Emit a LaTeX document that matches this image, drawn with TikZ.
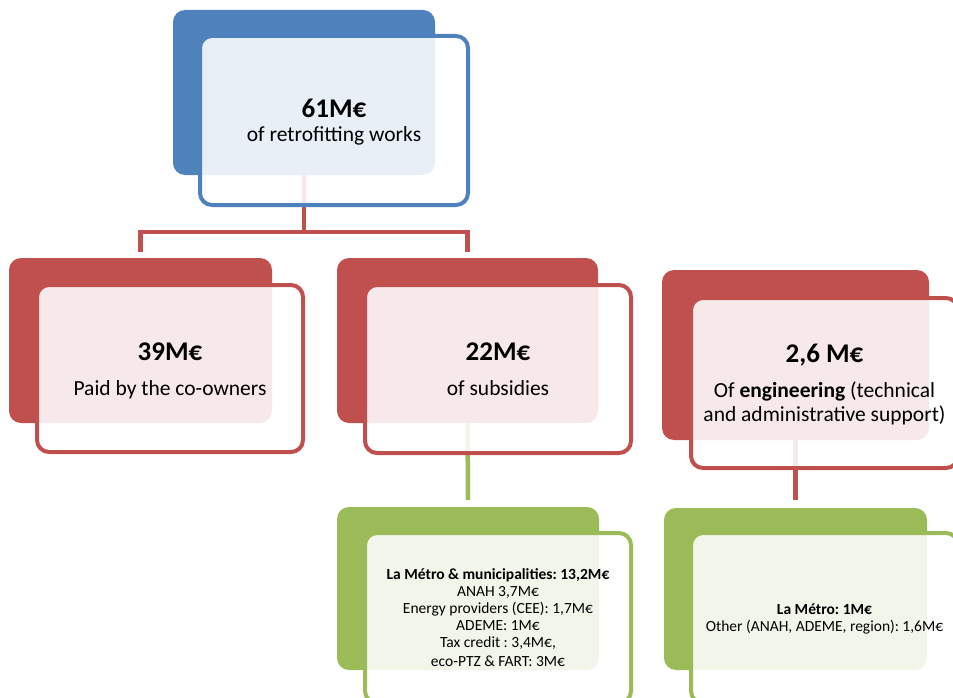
\documentclass[tikz,border=0pt]{standalone}
\usepackage{fontspec}
\setmainfont{Carlito}
\usetikzlibrary{calc}
\frenchspacing
\definecolor{cblue}{HTML}{4F81BD}
\definecolor{cred}{HTML}{C0504D}
\definecolor{cgreen}{HTML}{9BBB59}
\begin{document}
\begin{tikzpicture}[x=1pt,y=-1pt,
  back/.style={rectangle, rounded corners=12pt, anchor=north west, inner sep=0pt, outer sep=0pt, draw=none, fill=#1},
  front/.style={rectangle, rounded corners=12pt, anchor=north west, inner sep=0pt, outer sep=0pt, draw=#1, line width=4pt, fill=white, fill opacity=0.88, draw opacity=1},
  conn/.style={draw=#1, line width=4.5pt},
  big/.style={font=\fontsize{27}{30}\selectfont\bfseries, anchor=base, inner sep=0pt},
  body/.style={font=\fontsize{21.5}{23}\selectfont, anchor=base, inner sep=0pt},
  small/.style={font=\fontsize{15.5}{17}\selectfont, align=center, inner sep=0pt}]
\useasboundingbox (0,0) rectangle (953,698);
\clip (0,0) rectangle (953,698);
% back boxes
\node[back=cblue, minimum width=262pt, minimum height=165pt] (b0) at (173,10) {};
\node[back=cred, minimum width=263pt, minimum height=165pt] (b1) at (9,258) {};
\node[back=cred, minimum width=261pt, minimum height=165pt] (b2) at (337,258) {};
\node[back=cred, minimum width=267pt, minimum height=170pt] (b3) at (662,270) {};
\node[back=cgreen, minimum width=262pt, minimum height=163pt] (g1) at (337,507) {};
\node[back=cgreen, minimum width=263pt, minimum height=162pt] (g2) at (664,508) {};
% connectors
\coordinate (j0) at (b0.south |- 0,232);
\draw[conn=cred] (b0.south) -- (j0);
\draw[conn=cred] ([yshift=6pt]b1.north) |- (j0) -| ([yshift=6pt]b2.north);
\draw[conn=cgreen] (b2.south) -- ([yshift=7pt]g1.north);
\draw[conn=cred] (b3.south) -- ([yshift=8pt]g2.north);
% front boxes
\node[front=cblue, minimum width=268pt, minimum height=169pt] (f0) at (200,36) {};
\node[front=cred, minimum width=266pt, minimum height=167pt] (f1) at (37,285) {};
\node[front=cred, minimum width=266pt, minimum height=168pt] (f2) at (365,285) {};
\node[front=cred, minimum width=267pt, minimum height=170pt] (f3) at (691,298) {};
\node[front=cgreen, minimum width=266pt, minimum height=170pt] (h1) at (365,533) {};
\node[front=cgreen, minimum width=267pt, minimum height=170pt] (h2) at (691,533) {};
% texts
\node[big] (t0a) at ($(f0.center)+(0,-3)$) {61M€};
\node[body] (t0b) at ($(f0.center)+(0,21)$) {of retrofitting works};
\node[big] (t1a) at ($(f1.center)+(0,-8.5)$) {39M€};
\node[body] (t1b) at ($(f1.center)+(0,26.5)$) {Paid by the co-owners};
\node[big] (t2a) at ($(f2.center)+(0,-8.5)$) {22M€};
\node[body] (t2b) at ($(f2.center)+(0,26.5)$) {of subsidies};
\node[big] (t3a) at ($(f3.center)+(0,-21)$) {2,6 M€};
\node[body] (t3b) at ($(f3.center)+(0,14)$) {Of \textbf{engineering} (technical};
\node[body] (t3c) at ($(f3.center)+(0,38)$) {and administrative support)};
\node[small] (u1) at ($(h1.center)+(0,0)$) {\textbf{La Métro \& municipalities: 13,2M€}\\ANAH 3,7M€\\Energy providers (CEE): 1,7M€\\ADEME: 1M€\\Tax credit : 3,4M€,\\[2pt]eco-PTZ \& FART: 3M€};
\node[small] (u2) at ($(h2.center)+(0,1)$) {\textbf{La Métro: 1M€}\\Other (ANAH, ADEME, region): 1,6M€};
\end{tikzpicture}
\end{document}
